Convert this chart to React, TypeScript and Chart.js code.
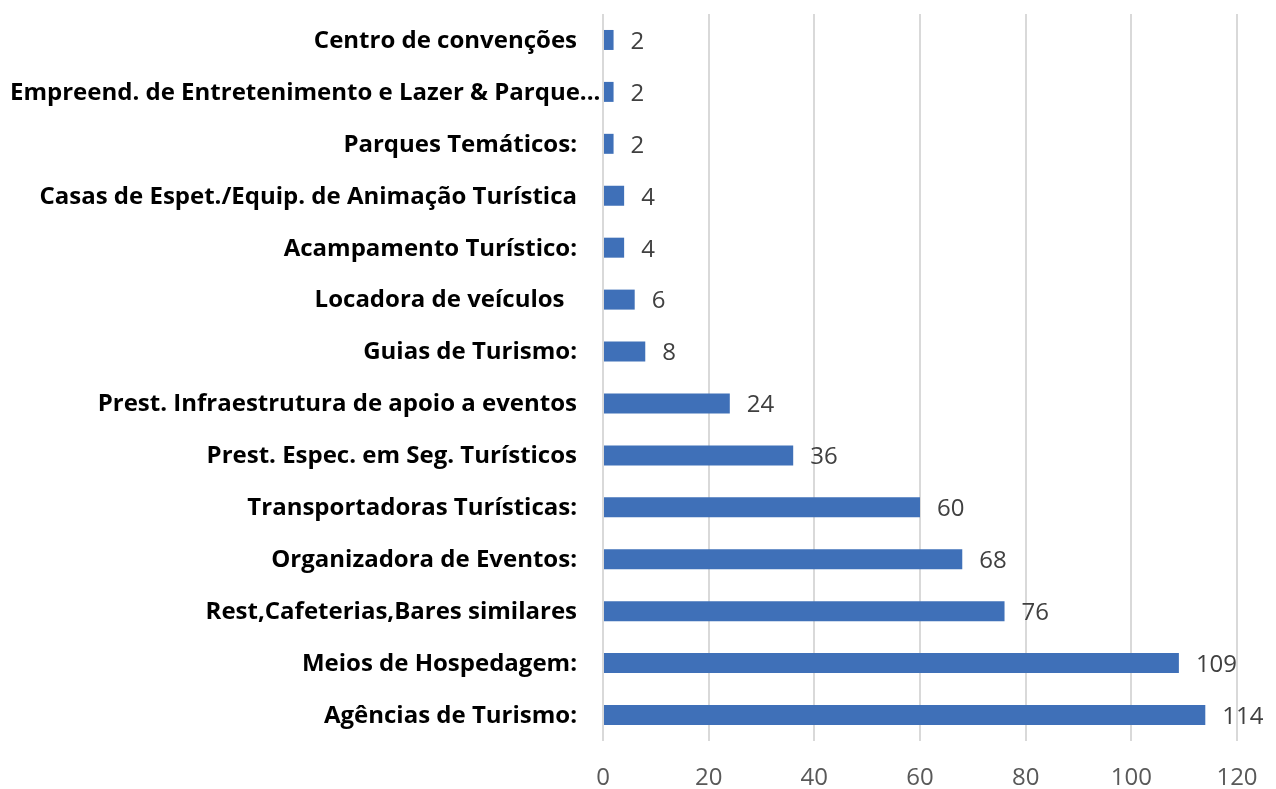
import React, { useEffect, useRef } from "react";
import { Chart, registerables } from "chart.js";

Chart.register(...registerables);

const categories = [
  "Centro de convenções",
  "Empreend. de Entretenimento e Lazer & Parque...",
  "Parques Temáticos:",
  "Casas de Espet./Equip. de Animação Turística",
  "Acampamento Turístico:",
  "Locadora de veículos  ",
  "Guias de Turismo:",
  "Prest. Infraestrutura de apoio a eventos",
  "Prest. Espec. em Seg. Turísticos",
  "Transportadoras Turísticas:",
  "Organizadora de Eventos:",
  "Rest,Cafeterias,Bares similares",
  "Meios de Hospedagem:",
  "Agências de Turismo:",
];

const values = [2, 2, 2, 4, 4, 6, 8, 24, 36, 60, 68, 76, 109, 114];

const FONT = "'Open Sans', 'Noto Sans', sans-serif";

const valueLabels = {
  id: "valueLabels",
  afterDatasetsDraw(chart: any) {
    const ctx = chart.ctx;
    const meta = chart.getDatasetMeta(0);
    ctx.save();
    ctx.font = `24px ${FONT}`;
    ctx.fillStyle = "#404040";
    ctx.textAlign = "left";
    ctx.textBaseline = "middle";
    meta.data.forEach((el: any, i: number) => {
      ctx.fillText(String(values[i]), el.x + 17, el.y + 2);
    });
    ctx.restore();
  },
};

const categoryLabels = {
  id: "categoryLabels",
  afterDraw(chart: any) {
    const ctx = chart.ctx;
    const y = chart.scales.y;
    const right = chart.chartArea.left - 26;
    ctx.save();
    ctx.font = `bold 24px ${FONT}`;
    ctx.fillStyle = "#000000";
    ctx.textBaseline = "middle";
    categories.forEach((c, i) => {
      const py = y.getPixelForTick(i) + 1;
      const w = ctx.measureText(c).width;
      if (w > right - 8) {
        ctx.textAlign = "left";
        ctx.fillText(c, 10, py);
      } else {
        ctx.textAlign = "right";
        ctx.fillText(c, right, py);
      }
    });
    ctx.restore();
  },
};

export default function App() {
  const ref = useRef<HTMLCanvasElement | null>(null);
  useEffect(() => {
    document.body.style.margin = "0";
    const chart = new Chart(ref.current as HTMLCanvasElement, {
      type: "bar",
      data: {
        labels: categories,
        datasets: [
          {
            data: values,
            backgroundColor: "#3F70B8",
            borderWidth: 0,
            barPercentage: 0.77,
            categoryPercentage: 0.5,
          },
        ],
      },
      options: {
        indexAxis: "y",
        animation: false,
        responsive: false,
        maintainAspectRatio: false,
        layout: { padding: { top: 14, right: 39, left: 0, bottom: 0 } },
        plugins: { legend: { display: false }, tooltip: { enabled: false } },
        scales: {
          x: {
            min: 0,
            max: 120,
            ticks: {
              stepSize: 20,
              padding: 23,
              color: "#595959",
              font: { family: FONT, size: 24 },
            },
            grid: { color: "#d9d9d9", lineWidth: 2, drawTicks: false },
            border: { display: false },
            afterFit(scale: any) {
              scale.height = 48;
              scale.paddingLeft = 0;
              scale.paddingRight = 0;
            },
          },
          y: {
            ticks: { display: false, autoSkip: false },
            grid: { display: false, drawTicks: false },
            border: { display: false },
            afterFit(scale: any) {
              scale.width = 603;
              scale.paddingTop = 0;
              scale.paddingBottom = 0;
            },
          },
        },
      },
      plugins: [valueLabels, categoryLabels],
    });
    return () => chart.destroy();
  }, []);
  return <canvas ref={ref} width={1276} height={789} style={{ display: "block" }} />;
}
